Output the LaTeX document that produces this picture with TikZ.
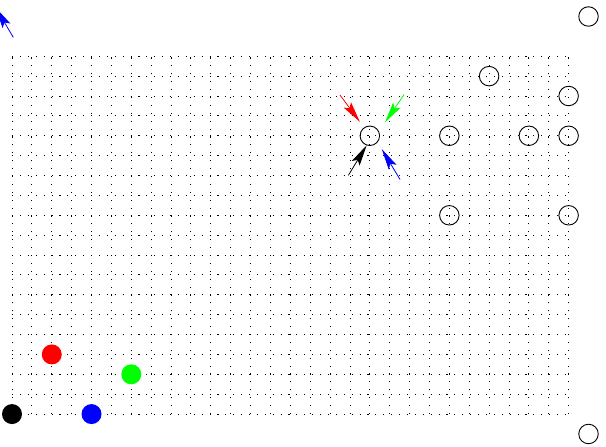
\documentclass[tikz,border=0pt]{standalone}
\usetikzlibrary{arrows.meta}
\begin{document}
\begin{tikzpicture}[x=19.88pt,y=19.88pt,
  gridline/.style={line width=0.9pt,dash pattern=on 1.1pt off 6.8pt,black},
  opencirc/.style={circle,draw,line width=0.9pt,minimum size=19.5pt,inner sep=0pt},
  fillcirc/.style={circle,fill=#1,minimum size=20pt,inner sep=0pt},
  vec/.style={draw=#1,line width=0.8pt,-{Stealth[length=21pt,width=9pt,inset=4pt,fill=#1]}}]
\useasboundingbox (-0.604,-1.61) rectangle (29.88,20.83);
\clip (-0.604,-1.61) rectangle (29.88,20.83);
% grid
\foreach \i in {0,...,28} \draw[gridline] (\i,0) -- (\i,18);
\foreach \j in {0,...,18} \draw[gridline] (0,\j) -- (28,\j);
% filled circles
\node[fillcirc=black] (k) at (0,0) {};
\node[fillcirc=blue] (b) at (4,0) {};
\node[fillcirc=red] (r) at (2,3) {};
\node[fillcirc=green] (g) at (6,2) {};
% open circles
\node[opencirc] (o1) at (18,14) {};
\node[opencirc] (o2) at (24,17) {};
\node[opencirc] (o3) at (28,16) {};
\node[opencirc] (o4) at (22,14) {};
\node[opencirc] (o5) at (26,14) {};
\node[opencirc] (o6) at (28,14) {};
\node[opencirc] (o7) at (22,10) {};
\node[opencirc] (o8) at (28,10) {};
\node[opencirc] (o9) at (29,-1) {};
\node[opencirc] (o10) at (29,20) {};
% arrows
\coordinate (rt) at (16.50,16.05); \coordinate (rh) at (17.50,14.70);
\coordinate (gt) at (19.73,16.08); \coordinate (gh) at (18.76,14.67);
\coordinate (kt) at (16.92,12.01); \coordinate (kh) at (17.84,13.52);
\coordinate (bt) at (19.52,11.80); \coordinate (bh) at (18.60,13.33);
\coordinate (at) at (0.065,18.95); \coordinate (ah) at (-0.815,20.44);
\draw[vec=red] (rt) -- (rh);
\draw[vec=green] (gt) -- (gh);
\draw[vec=black] (kt) -- (kh);
\draw[vec=blue] (bt) -- (bh);
\draw[vec=blue] (at) -- (ah);
\end{tikzpicture}
\end{document}
